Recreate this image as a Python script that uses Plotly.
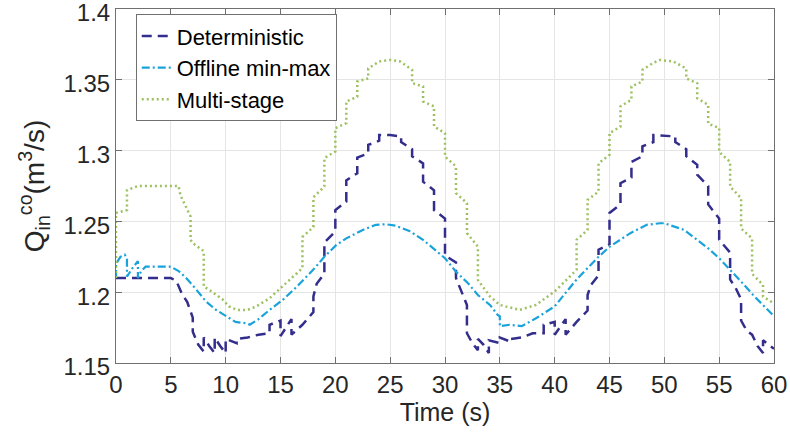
import plotly.graph_objects as go

# ---------------- data ----------------
det_t = [0, 5.0, 5.5, 6.0, 6.5, 7.0, 7.0, 7.5, 8.0, 8.0, 8.5, 9.0, 9.0, 9.5, 10.0, 10.0,
         11.0, 11.0, 12.0, 13.0, 14.0, 14.0, 15.0, 15.0, 16.0, 16.0, 17.0, 18.0, 18.0, 18.3,
         19.0, 19.0, 20.0, 20.0, 21.0, 21.0, 22.0, 22.0, 23.0, 23.0, 24.0, 24.0, 25.0,
         26.0, 26.0, 27.0, 27.0, 28.0, 28.0, 29.0, 29.0, 30.0, 30.0, 31.0, 31.0, 31.5,
         32.0, 32.0, 32.5, 33.0, 33.0, 33.5, 34.0, 34.0, 35.0, 35.0, 36.0, 36.0, 37.0,
         38.0, 39.0, 39.0, 40.0, 40.0, 41.0, 41.0, 42.0, 43.0, 43.0, 43.3, 44.0, 44.0,
         45.0, 45.0, 46.0, 46.0, 47.0, 47.0, 48.0, 48.0, 49.0, 49.0, 51.0, 51.0, 52.0,
         52.0, 53.0, 53.0, 54.0, 54.0, 55.0, 55.0, 56.0, 56.0, 56.5, 57.0, 57.0, 57.5,
         58.0, 58.5, 59.0, 59.0, 60.0]
det_v = [1.210, 1.210, 1.208, 1.199, 1.193, 1.182, 1.172, 1.163, 1.158, 1.168, 1.162, 1.157,
         1.168, 1.162, 1.157, 1.167, 1.164, 1.167, 1.168, 1.170, 1.171, 1.177, 1.180, 1.169,
         1.181, 1.170, 1.177, 1.186, 1.197, 1.206, 1.213, 1.235, 1.243, 1.258, 1.264, 1.279,
         1.284, 1.295, 1.298, 1.304, 1.307, 1.311, 1.311, 1.310, 1.306, 1.301, 1.296, 1.291,
         1.278, 1.272, 1.258, 1.252, 1.226, 1.221, 1.210, 1.200, 1.191, 1.171, 1.164, 1.159,
         1.167, 1.163, 1.157, 1.166, 1.164, 1.168, 1.165, 1.167, 1.168, 1.171, 1.171, 1.177,
         1.179, 1.170, 1.181, 1.170, 1.179, 1.187, 1.198, 1.205, 1.212, 1.230, 1.234, 1.256,
         1.262, 1.277, 1.281, 1.292, 1.296, 1.303, 1.306, 1.311, 1.310, 1.306, 1.301, 1.296,
         1.290, 1.283, 1.275, 1.262, 1.252, 1.237, 1.228, 1.209, 1.203, 1.195, 1.180, 1.173,
         1.170, 1.162, 1.157, 1.166, 1.160]

off_t = [0, 0, 0.4, 0.8, 1.0, 1.0, 1.5, 2.0, 2.0, 2.3, 2.7, 5.0, 5.75, 6.4, 7.3, 8.2, 9.1,
         10.0, 10.9, 11.9, 12.2, 12.6, 13.0, 14.0, 15.2, 16.5, 18.0, 19.0, 20.1, 21.0, 22.5,
         23.7, 24.6, 25.5, 26.8, 28.0, 29.1, 30.0, 31.0, 32.1, 33.0, 34.1, 34.8, 35.0, 35.0,
         35.9, 37.0, 38.3, 40.0, 42.0, 44.0, 45.0, 46.9, 48.4, 49.6, 50.0, 51.8, 53.0, 54.0,
         55.0, 56.0, 57.0, 58.1, 59.0, 60.0]
off_v = [1.210, 1.220, 1.225, 1.2265, 1.224, 1.211, 1.217, 1.222, 1.210, 1.215, 1.218, 1.218,
         1.2147, 1.210, 1.202, 1.1935, 1.1876, 1.183, 1.179, 1.178, 1.177, 1.179, 1.181,
         1.1875, 1.1945, 1.204, 1.216, 1.225, 1.2334, 1.238, 1.244, 1.2476, 1.248, 1.247,
         1.243, 1.237, 1.230, 1.224, 1.2145, 1.2063, 1.198, 1.191, 1.184, 1.183, 1.176,
         1.177, 1.176, 1.1816, 1.190, 1.209, 1.225, 1.232, 1.2417, 1.2476, 1.2487, 1.2487,
         1.244, 1.237, 1.231, 1.224, 1.216, 1.2075, 1.198, 1.191, 1.183]

ms_t = [0, 0, 1, 1, 2, 5.7, 5.9, 6.8, 6.8, 7, 8, 8, 8.5, 9.7, 10.3, 11, 12, 12.8, 14, 15,
        15.8, 17, 17, 18, 18, 19, 19, 20, 20, 21, 21, 22, 22, 23, 23, 24, 25, 25.9, 27, 27,
        28, 28, 29, 29, 30, 30, 31, 31, 32, 32, 33, 33, 34.1, 35, 36.8, 38.3, 40, 41.1, 42,
        42, 43, 43, 44, 44, 45, 45, 46, 46, 47, 47, 48, 48, 49, 49.6, 50.8, 52, 52, 53, 53,
        54, 54, 55, 55, 56, 56, 57, 57, 58, 58, 59, 59, 60]
ms_v = [1.210, 1.256, 1.258, 1.272, 1.275, 1.275, 1.268, 1.2535, 1.237, 1.2347, 1.229, 1.204,
        1.2017, 1.195, 1.190, 1.1875, 1.1875, 1.190, 1.1957, 1.2028, 1.2087, 1.217, 1.239,
        1.246, 1.267, 1.2746, 1.2947, 1.2994, 1.3158, 1.3194, 1.3347, 1.338, 1.3488, 1.351,
        1.358, 1.363, 1.364, 1.363, 1.357, 1.3477, 1.3453, 1.3347, 1.3312, 1.317, 1.3123,
        1.2958, 1.2888, 1.270, 1.2629, 1.2417, 1.2322, 1.2087, 1.197, 1.191, 1.1875, 1.191,
        1.2005, 1.2087, 1.2158, 1.237, 1.244, 1.2652, 1.271, 1.291, 1.297, 1.3123, 1.317,
        1.3312, 1.3359, 1.3453, 1.3488, 1.357, 1.362, 1.364, 1.363, 1.358, 1.351, 1.3476,
        1.337, 1.3323, 1.319, 1.316, 1.299, 1.292, 1.2746, 1.2664, 1.245, 1.238, 1.213,
        1.2052, 1.197, 1.192]

x_ticks = [0, 5, 10, 15, 20, 25, 30, 35, 40, 45, 50, 55, 60]
y_ticks = [1.15, 1.2, 1.25, 1.3, 1.35, 1.4]
y_ticktext = ["1.15", "1.2", "1.25", "1.3", "1.35", "1.4"]

names = ["Deterministic", "Offline min-max", "Multi-stage"]
colors = ["#332D8C", "#1AA3DA", "#9DC061"]

# ---------------- figure ----------------
FONT = "Liberation Sans, Arial, sans-serif"
fig = go.Figure()
fig.add_trace(go.Scatter(x=det_t, y=det_v, mode="lines", name=names[0],
                         line=dict(color=colors[0], width=2.5, dash="10px,6px")))
fig.add_trace(go.Scatter(x=off_t, y=off_v, mode="lines", name=names[1],
                         line=dict(color=colors[1], width=2.2, dash="8px,3px,2px,3px")))
fig.add_trace(go.Scatter(x=ms_t, y=ms_v, mode="lines", name=names[2],
                         line=dict(color=colors[2], width=2.5, dash="2px,3px")))

axis_common = dict(showline=True, linecolor="#707070", linewidth=1, mirror="ticks",
                   ticks="inside", ticklen=6, tickcolor="#707070",
                   showgrid=True, gridcolor="#E5E5E5", gridwidth=1, zeroline=False,
                   ticklabeloverflow="allow", automargin=False,
                   tickfont=dict(family=FONT, size=24, color="#262626"))

fig.update_xaxes(range=[0, 60], tickvals=x_ticks,
                 title=dict(text="Time (s)", font=dict(family=FONT, size=25, color="#262626"),
                            standoff=0),
                 **axis_common)
fig.update_yaxes(range=[1.1499999, 1.4000001], tickvals=y_ticks, ticktext=y_ticktext,
                 ticklabelshift=4,
                 title=dict(text="Q<sub>in</sub><sup>co</sup>(m<sup>3</sup>/s)",
                            font=dict(family=FONT, size=28, color="#262626"), standoff=10),
                 **axis_common)

fig.update_layout(
    width=790, height=441,
    margin=dict(l=116, r=16, t=9, b=78, autoexpand=False),
    paper_bgcolor="white", plot_bgcolor="white",
    font=dict(family=FONT, color="#262626"),
    legend=dict(x=0.03, y=0.985, xanchor="left", yanchor="top",
                bgcolor="white", bordercolor="#707070", borderwidth=1,
                font=dict(family=FONT, size=22, color="#000000"),
                itemwidth=30, tracegroupgap=0),
)

fig.write_html("out.html")
